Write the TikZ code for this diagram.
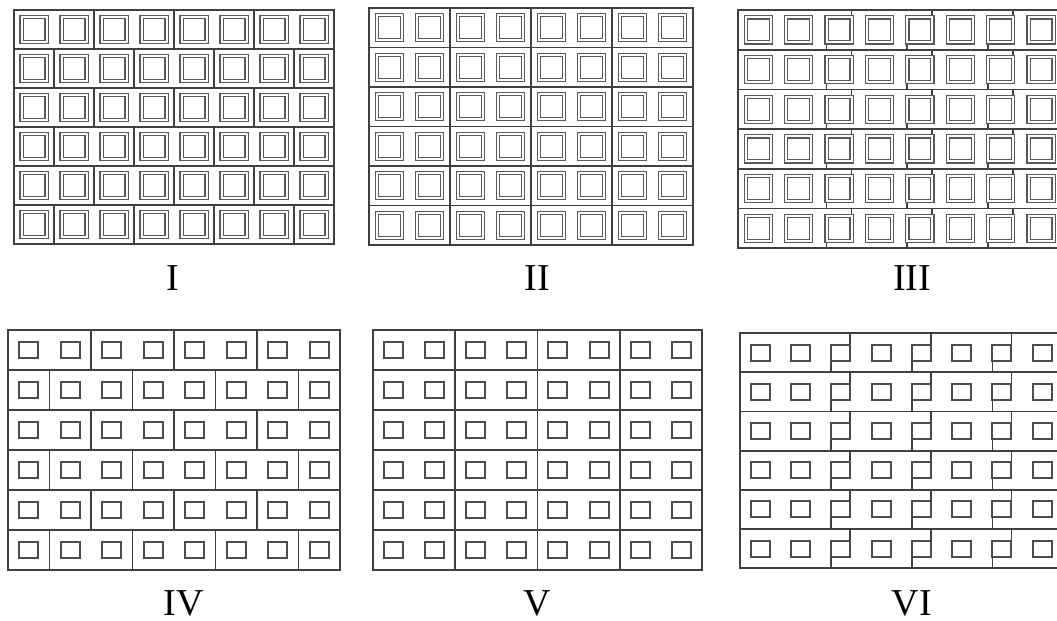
\documentclass[tikz,border=0pt]{standalone}
\usepackage{fontspec}
\setmainfont{Liberation Serif}
\tikzset{
  joint/.style={draw=black!75, line width=.9pt},
  bigcav/.style={draw=black!65, line width=.6pt, double=white, double distance=1pt},
  smallcav/.style={draw=black!70, line width=1pt},
  lab/.style={font=\fontsize{19}{21}\selectfont}
}
\begin{document}
\begin{tikzpicture}[x=.5pt, y=-.5pt]
  \useasboundingbox (0,0) rectangle (1057,621);
  \clip (0,0) rectangle (1057,621);
  % I: running bond, big cavities
  \begin{scope}[shift={(14,10)}]
    \draw[joint] (0,0) rectangle (320,234);
    \foreach \r in {1,...,5} \draw[joint] (0,\r*39) -- (320,\r*39);
    \foreach \r in {0,2,4} \foreach \k in {2,4,6} \draw[joint] (\k*40,\r*39) -- ++(0,39);
    \foreach \r in {1,3,5} \foreach \k in {1,3,5,7} \draw[joint] (\k*40,\r*39) -- ++(0,39);
    \foreach \r in {0,...,5} \foreach \c in {0,...,7}
      \draw[bigcav] (\c*40+7.5,\r*39+7) rectangle ++(25,25);
  \end{scope}
  % II: stack bond, big cavities
  \begin{scope}[shift={(369,8)}]
    \draw[joint] (0,0) rectangle (324,237);
    \foreach \r in {1,...,5} \draw[joint] (0,\r*39.5) -- (324,\r*39.5);
    \foreach \k in {2,4,6} \draw[joint] (\k*40.5,0) -- (\k*40.5,237);
    \foreach \r in {0,...,5} \foreach \c in {0,...,7}
      \draw[bigcav] (\c*40.5+7.75,\r*39.5+7.25) rectangle ++(25,25);
  \end{scope}
  % III: stepped joints through the cavity, big cavities
  \begin{scope}[shift={(738,10)}]
    \draw[joint] (0,0) rectangle (323.2,238.2);
    \foreach \r in {1,...,5} \draw[joint] (0,\r*39.7) -- (323.2,\r*39.7);
    \foreach \r in {0,...,5} \foreach \k in {2,4,6} {
      \draw[joint] (\k*40.4+32.7,\r*39.7) -- ++(0,7.35);
      \draw[joint] (\k*40.4+7.7,\r*39.7+32.35) -- ++(0,7.35);
    }
    \foreach \r in {0,...,5} \foreach \c in {0,...,7}
      \draw[bigcav] (\c*40.4+7.7,\r*39.7+7.35) rectangle ++(25,25);
  \end{scope}
  % IV: running bond, small cavities
  \begin{scope}[shift={(8,330)}]
    \draw[joint] (0,0) rectangle (332,240);
    \foreach \r in {1,...,5} \draw[joint] (0,\r*40) -- (332,\r*40);
    \foreach \r in {0,2,4} \foreach \k in {2,4,6} \draw[joint] (\k*41.5,\r*40) -- ++(0,40);
    \foreach \r in {1,3,5} \foreach \k in {1,3,5,7} \draw[joint] (\k*41.5,\r*40) -- ++(0,40);
    \foreach \r in {0,...,5} \foreach \c in {0,...,7}
      \draw[smallcav] (\c*41.5+11.25,\r*40+12) rectangle ++(19,16);
  \end{scope}
  % V: stack bond, small cavities
  \begin{scope}[shift={(373,330)}]
    \draw[joint] (0,0) rectangle (329,240);
    \foreach \r in {1,...,5} \draw[joint] (0,\r*40) -- (329,\r*40);
    \foreach \k in {2,4,6} \draw[joint] (\k*41.1,0) -- (\k*41.1,240);
    \foreach \r in {0,...,5} \foreach \c in {0,...,7}
      \draw[smallcav] (\c*41.1+11,\r*40+12) rectangle ++(19,16);
  \end{scope}
  % VI: stepped joints, small cavities
  \begin{scope}[shift={(740,333)}]
    \draw[joint] (0,0) rectangle (322.4,235.2);
    \foreach \r in {1,...,5} \draw[joint] (0,\r*39.2) -- (322.4,\r*39.2);
    \foreach \r in {0,...,5} \foreach \k in {2,4,6} {
      \draw[joint] (\k*40.3+29.65,\r*39.2) -- ++(0,11.6);
      \draw[joint] (\k*40.3+10.65,\r*39.2+27.6) -- ++(0,11.6);
    }
    \foreach \r in {0,...,5} \foreach \c in {0,...,7}
      \draw[smallcav] (\c*40.3+10.65,\r*39.2+11.6) rectangle ++(19,16);
  \end{scope}
  \node[lab] (l1) at (173,278) {I};
  \node[lab] (l2) at (537,278) {II};
  \node[lab] (l3) at (912,278) {III};
  \node[lab] (l4) at (184,603) {IV};
  \node[lab] (l5) at (537,603) {V};
  \node[lab] (l6) at (912,603) {VI};
\end{tikzpicture}
\end{document}
